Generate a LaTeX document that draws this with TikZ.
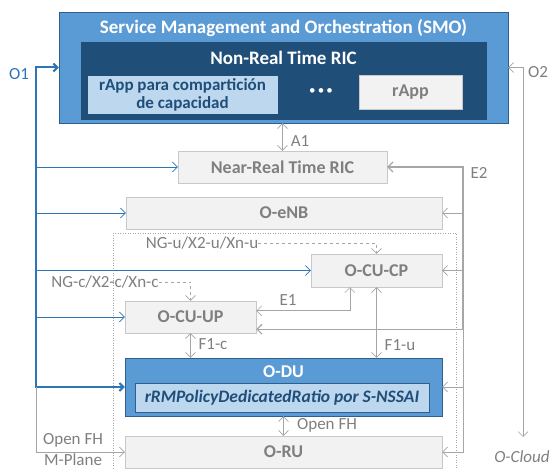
\documentclass[tikz,border=0pt]{standalone}
\usepackage{fontspec}
\setmainfont{Carlito}
\usetikzlibrary{positioning,arrows.meta,calc}
\definecolor{smoblue}{HTML}{5B9BD5}
\definecolor{smoedge}{HTML}{2E5F8F}
\definecolor{ricblue}{HTML}{1F4E79}
\definecolor{paleblue}{HTML}{BDD7EE}
\definecolor{boxgray}{HTML}{F2F2F2}
\definecolor{edgegray}{HTML}{C8C8C8}
\definecolor{txtgray}{HTML}{7F7F7F}
\definecolor{linegray}{HTML}{A6A6A6}
\definecolor{oneblue}{HTML}{2E75B6}
\tikzset{
   graybox/.style = {%
    shape=rectangle,
    draw=edgegray,
    fill=boxgray,
    text=txtgray,
    inner sep=0pt,
    font=\fontsize{18}{18}\selectfont\bfseries},
   bluebox/.style = {%
    shape=rectangle,
    draw=smoedge,
    fill=smoblue,
    inner sep=0pt},
   palebox/.style = {%
    shape=rectangle,
    draw=smoedge,
    fill=paleblue,
    text=ricblue,
    align=center,
    inner sep=0pt,
    font=\fontsize{17}{18}\selectfont\bfseries},
   whitetitle/.style = {%
    text=white,
    inner sep=0pt,
    font=\fontsize{19}{19}\selectfont\bfseries},
   tag/.style = {%
    text=txtgray,
    inner sep=0pt,
    font=\fontsize{17}{17}\selectfont},
   grayarrow/.style = {%
    draw=linegray,
    line width=0.6pt,
    -{Straight Barb[length=5pt,width=10pt]}},
   twoway/.style = {%
    grayarrow,
    {Straight Barb[length=5pt,width=10pt]}-{Straight Barb[length=5pt,width=10pt]}},
   bluearrow/.style = {%
    draw=oneblue,
    line width=0.7pt,
    -{Straight Barb[length=5pt,width=10pt]}},
   thickarrow/.style = {%
    draw=oneblue,
    line width=2pt,
    -{Straight Barb[length=4pt,width=8pt]}},
   dashline/.style = {%
    draw=linegray,
    dashed,
    line width=0.6pt,
    -{Straight Barb[length=5pt,width=10pt]}},
}

\begin{document}
\begin{tikzpicture}[x=1pt,y=-1pt]
    \useasboundingbox (0,0) rectangle (552,470);
    % SMO and Non-RT RIC
    \node[bluebox, minimum width=449pt, minimum height=111pt] (smo) at (283.5,67.5) {};
    \node[whitetitle] (smotitle) at (283.5,28) {Service Management and Orchestration (SMO)};
    \node[draw=ricblue, fill=ricblue, inner sep=0pt,
          minimum width=405pt, minimum height=77pt] (nonrt) at (283.5,80.5) {};
    \node[whitetitle] (nonrttitle) at (283.5,58) {Non-Real Time RIC};
    \node[palebox, draw=paleblue, minimum width=189pt, minimum height=37pt] (rappshare) at (182.5,94.5)
        {rApp para compartición\\de capacidad};
    \node[whitetitle, font=\fontsize{13}{13}\selectfont] (dots) at (321,92) {\textbullet\,\textbullet\,\textbullet};
    \node[graybox, minimum width=103pt, minimum height=34pt] (rapp) at (410.5,92) {rApp};

    % RAN nodes
    \draw[linegray, dotted, line width=0.5pt] (113,233) rectangle (456,480);
    \node[graybox, minimum width=209pt, minimum height=32pt] (nrric) at (282.5,167) {Near-Real Time RIC};
    \node[graybox, minimum width=316pt, minimum height=32pt] (oenb) at (284,213) {O-eNB};
    \node[graybox, minimum width=131pt, minimum height=33pt] (cucp) at (376.5,270.5) {O-CU-CP};
    \node[graybox, minimum width=131pt, minimum height=32pt] (cuup) at (190.5,317) {O-CU-UP};
    \node[bluebox, minimum width=317pt, minimum height=58pt] (odu) at (283.5,387) {};
    \node[whitetitle, font=\fontsize{18}{18}\selectfont\bfseries] (odutitle) at (283.5,372) {O-DU};
    \node[palebox, minimum width=294pt, minimum height=29pt,
          font=\fontsize{17.5}{18}\selectfont\bfseries\itshape] (policy) at (282,397.5)
        {rRMPolicyDedicatedRatio por S-NSSAI};
    \node[graybox, minimum width=317pt, minimum height=32pt] (oru) at (283.5,452) {O-RU};

    % O1
    \coordinate (o1top) at (36,67.5);
    \coordinate (o1bot) at (36,387);
    \node[tag, text=oneblue] (o1) at (19,74) {O1};
    \draw[thickarrow] (o1bot) |- (smo.west);
    \draw[thickarrow] (o1top) |- (odu.west);
    \draw[bluearrow] (o1top |- nrric.west) -- (nrric.west);
    \draw[bluearrow] (o1top |- oenb.west) -- (oenb.west);
    \draw[bluearrow] (o1top |- cucp.west) -- (cucp.west);
    \draw[bluearrow] (o1top |- cuup.west) -- (cuup.west);
    \draw[grayarrow] (o1bot) |- (oru.west);
    \node[tag] (fhtop) at (73,440) {Open FH};
    \node[tag] (mplane) at (73,460) {M-Plane};

    % O2
    \node[tag, font=\fontsize{17}{17}\selectfont\itshape] (ocloud) at (522,457) {O-Cloud};
    \coordinate (o2) at (523,437);
    \draw[twoway] (smo.east) -| (o2);
    \node[tag] (o2lbl) at (538,72) {O2};

    % A1
    \draw[twoway] (nrric.north |- smo.south) -- (nrric.north);
    \node[tag] (a1) at (300,141) {A1};

    % E2
    \coordinate (e2top) at (463,167);
    \coordinate (e2mid) at (463,329);
    \coordinate (cuupe2) at ($(cuup.south east)+(0,-4)$);
    \draw[grayarrow, line width=1.2pt] (e2mid) |- (nrric.east);
    \draw[grayarrow, line width=1.2pt] (e2top) |- (cuupe2);
    \draw[grayarrow] (e2top |- oenb.east) -- (oenb.east);
    \draw[grayarrow] (e2top |- cucp.east) -- (cucp.east);
    \draw[grayarrow] (e2mid) |- (odu.east);
    \draw[grayarrow] (e2mid) |- (oru.east);
    \node[tag] (e2) at (479,173) {E2};

    % E1, F1, Open FH
    \draw[twoway] ($(cuup.north east)+(0,10)$) -| ($(cucp.south west)+(39,0)$);
    \node[tag] (e1) at (288,300) {E1};
    \draw[twoway] (cucp.south) -- (cucp.south |- odu.north);
    \node[tag] (f1u) at (400,345) {F1-u};
    \draw[twoway] (cuup.south) -- (cuup.south |- odu.north);
    \node[tag] (f1c) at (213,344) {F1-c};
    \draw[twoway] (odu.south) -- (oru.north);
    \node[tag] (fh) at (327,425) {Open FH};

    % NG / X2 / Xn
    \node[tag] (ngu) at (202,243) {NG-u/X2-u/Xn-u};
    \draw[dashline] (ngu.east) -| (cucp.north);
    \node[tag] (ngc) at (105,282) {NG-c/X2-c/Xn-c};
    \draw[dashline] (ngc.east) -| (cuup.north);
\end{tikzpicture}
\end{document}
